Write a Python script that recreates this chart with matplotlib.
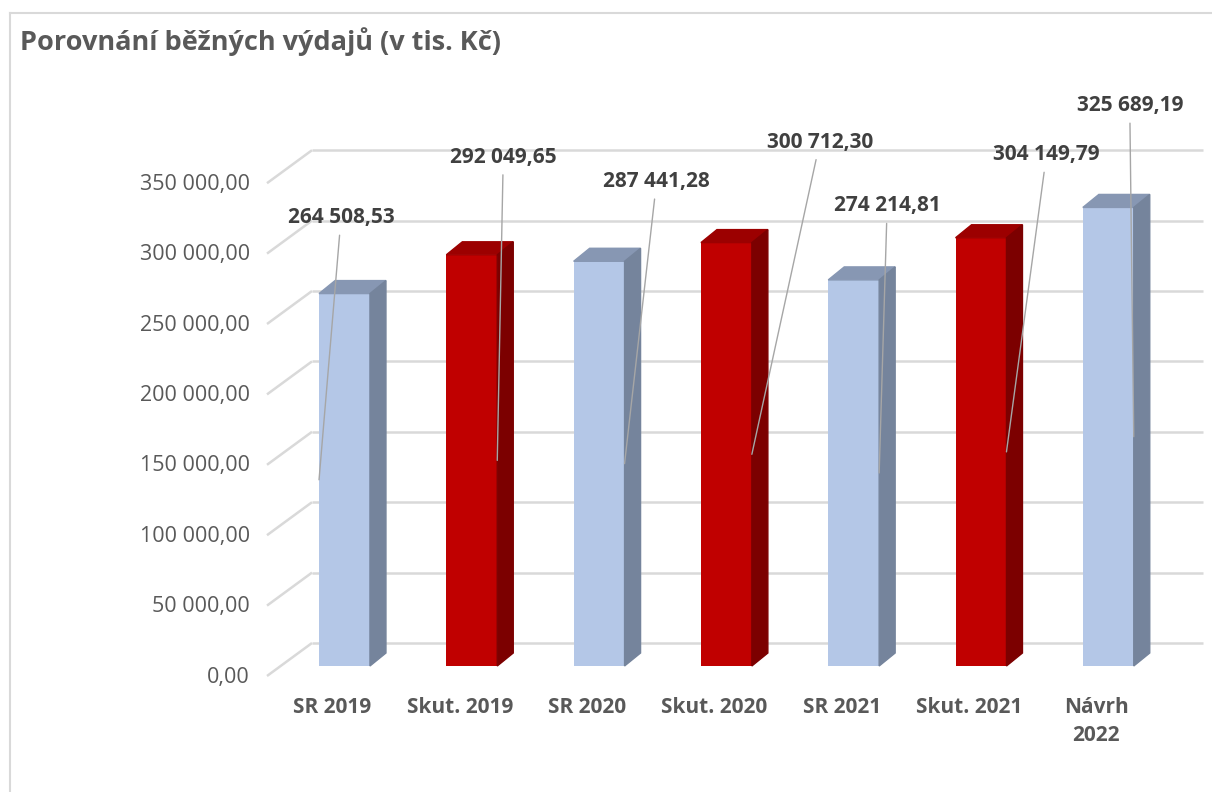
#IMPORT LIBRARIES
import numpy as np
import matplotlib
matplotlib.use("Agg")
import matplotlib.pyplot as plt
from matplotlib.patches import Polygon
from matplotlib.lines import Line2D

plt.rcParams['font.family'] = ['Open Sans', 'DejaVu Sans']

#DATA
categories = ["SR 2019", "Skut. 2019", "SR 2020", "Skut. 2020", "SR 2021", "Skut. 2021", "Návrh\n2022"]
values = [264508.53, 292049.65, 287441.28, 300712.30, 274214.81, 304149.79, 325689.19]
is_actual = [False, True, False, True, False, True, False]
yticks = [0, 50000, 100000, 150000, 200000, 250000, 300000, 350000]
title = "Porovnání běžných výdajů (v tis. Kč)"

#LABEL OFFSETS (PIXELS) FROM LEADER ANCHOR, AND WHICH BAR EDGE THE LEADER HITS
label_off = [(22, 262), (6, 303), (32, 282), (68, 312), (8, 267), (40, 297), (-4, 331)]
anchor_side = [-1, 1, 1, 1, 1, 1, 1]

def fmt(v):
    s = f"{v:,.2f}"
    return s.replace(",", " ").replace(".", ",")

#COLORS
blue_front, blue_top, blue_side = "#B4C7E7", "#8797B3", "#75849C"
red_front, red_top, red_side = "#C00000", "#9C0000", "#7C0000"
grid_col = "#D9D9D9"
txt_col = "#595959"
lbl_col = "#404040"

#SCALE: PIXELS PER CATEGORY AND PIXELS PER VALUE UNIT
W, H = 1212, 792
px_cat = 127.3
px_val = 0.001408
x0_px, y0_px = 344.5, 666

fig = plt.figure(figsize=(W/100, H/100), dpi=100)
ax = fig.add_axes([0, 0, 1, 1])
ax.set_xlim(-x0_px/px_cat, (W-x0_px)/px_cat)
ax.set_ylim((y0_px-H)/px_val, y0_px/px_val)
ax.axis("off")

def dx(px):
    return px/px_cat

def dv(px):
    return px/px_val

#WALL GRIDLINES (BACK WALL + LEFT DIAGONALS)
for t in yticks:
    vb = t + dv(23)
    ax.plot([dx(312-x0_px), dx(1203-x0_px)], [vb, vb], color=grid_col, lw=1.8, zorder=1, solid_capstyle="butt")
    ax.plot([dx(267-x0_px), dx(312-x0_px)], [t - dv(10), vb], color=grid_col, lw=1.8, zorder=1, solid_capstyle="butt")
    ax.text(dx(250-x0_px), t - dv(11), fmt(t), ha="right", va="center", fontsize=15.5, color=txt_col)

#BARS WITH FAKE 3D FACES
x = np.arange(len(values))
bw = 0.4
ddx, ddv = dx(16), dv(13)
for i, v in enumerate(values):
    front, top, side = (red_front, red_top, red_side) if is_actual[i] else (blue_front, blue_top, blue_side)
    ax.bar(x[i], v, width=bw, color=front, zorder=2)
    l, r = x[i]-bw/2, x[i]+bw/2
    ax.add_patch(Polygon([(l, v), (r, v), (r+ddx, v+ddv), (l+ddx, v+ddv)], closed=True, color=top, zorder=2))
    ax.add_patch(Polygon([(r, 0), (r, v), (r+ddx, v+ddv), (r+ddx, ddv)], closed=True, color=side, zorder=2))

#DATA LABELS WITH LEADER LINES
for i, v in enumerate(values):
    ax_x = x[i] + anchor_side[i]*bw/2
    ax.annotate(fmt(v), xy=(ax_x, v/2), xytext=label_off[i], textcoords="offset pixels",
                ha="center", va="center", fontsize=15, fontweight="bold", color=lbl_col,
                arrowprops=dict(arrowstyle="-", color="#A6A6A6", lw=1.0, shrinkA=3, shrinkB=0), zorder=4)

#CATEGORY LABELS (SIT ON THE FRONT OF THE FLOOR, SO A BIT LEFT OF THE BARS)
for i, c in enumerate(categories):
    ax.text(x[i] - dx(12), dv(y0_px-697), c, ha="center", va="top", fontsize=15, fontweight="bold",
            color=txt_col, linespacing=1.45)

#TITLE AND OUTER BORDER
fig.text(20/W, 1-42/H, title, ha="left", va="center", fontsize=19.5, fontweight="bold", color=txt_col)
fig.add_artist(Line2D([9.5/W, 1], [1-12.5/H, 1-12.5/H], color=grid_col, lw=1.5))
fig.add_artist(Line2D([9.5/W, 9.5/W], [0, 1-12.5/H], color=grid_col, lw=1.5))

fig.savefig("out.png", dpi=100)
